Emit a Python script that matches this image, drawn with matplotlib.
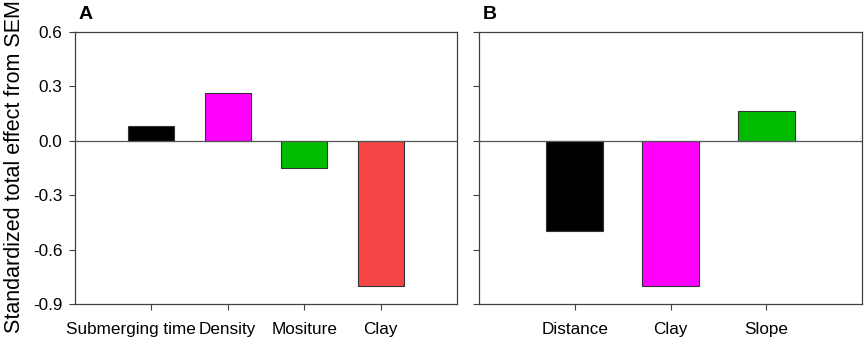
import matplotlib
matplotlib.use("Agg")
import matplotlib.pyplot as plt
from matplotlib.transforms import ScaledTranslation

plt.rcParams['font.family'] = ['Liberation Sans', 'DejaVu Sans']

cats_a = ["Submerging time", "Density", "Mositure", "Clay"]
vals_a = [0.08, 0.26, -0.15, -0.80]
colors_a = ["#000000", "#FF00FF", "#00BB00", "#F44444"]

cats_b = ["Distance", "Clay", "Slope"]
vals_b = [-0.50, -0.80, 0.16]
colors_b = ["#000000", "#FF00FF", "#00BB00"]

yticks = [-0.9, -0.6, -0.3, 0.0, 0.3, 0.6]
ylabel = "Standardized total effect from SEM"

W, H = 865, 338
fig = plt.figure(figsize=(W/100, H/100), dpi=100)
axA = fig.add_axes([75/W, 1-304/H, (457-75)/W, (304-31.5)/H])
axB = fig.add_axes([479/W, 1-304/H, (862-479)/W, (304-31.5)/H])

spine_c = "#404040"
for ax, cats, vals, cols, lab in [(axA, cats_a, vals_a, colors_a, "A"), (axB, cats_b, vals_b, colors_b, "B")]:
    x = list(range(1, len(cats)+1))
    ax.bar(x, vals, width=0.6, color=cols, edgecolor="#333333", linewidth=0.8, zorder=3)
    ax.axhline(0, color="#555555", linewidth=0.9, zorder=4)
    ax.set_xlim(0, len(cats)+1)
    ax.set_ylim(-0.9, 0.6)
    ax.set_xticks(x)
    ax.set_xticklabels(cats, fontsize=12.3)
    ax.set_yticks(yticks)
    ax.tick_params(direction="out", length=4, color=spine_c, width=0.8, pad=5)
    ax.tick_params(axis="x", pad=9)
    for s in ax.spines.values():
        s.set_color(spine_c)
        s.set_linewidth(0.9)
    ax.text(0.01, 1.03, lab, transform=ax.transAxes, fontsize=14, fontweight="bold", va="bottom", ha="left")

# shift the long first label left, as in the reference
first = axA.get_xticklabels()[0]
first.set_transform(first.get_transform() + ScaledTranslation(-0.2, 0, fig.dpi_scale_trans))

axA.set_yticklabels(["-0.9", "-0.6", "-0.3", "0.0", "0.3", "0.6"], fontsize=12.3)
axB.set_yticklabels([])
axA.set_ylabel(ylabel, fontsize=15.5, va="center")
axA.yaxis.set_label_coords((15-75)/(457-75), (304-167)/(304-31.5))

fig.savefig("out.png", dpi=100)
